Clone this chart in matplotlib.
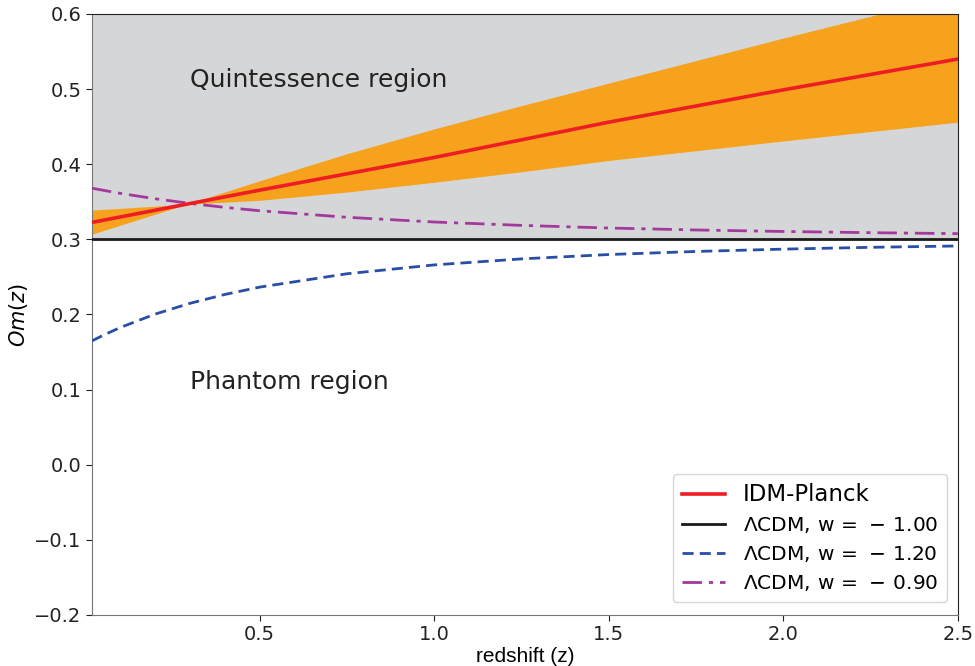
import numpy as np
import matplotlib
matplotlib.use("Agg")
import matplotlib.pyplot as plt

# ---- data ----
z_curve = [0.02, 0.05, 0.1, 0.2, 0.3, 0.4, 0.5, 0.75, 1.0, 1.25, 1.5, 1.75, 2.0, 2.25, 2.5]
om_w120 = [0.1649, 0.1719, 0.1825, 0.2004, 0.2148, 0.2266, 0.2364, 0.2542, 0.2660,
           0.2740, 0.2798, 0.2839, 0.2870, 0.2894, 0.2912]
om_w090 = [0.3681, 0.3655, 0.3613, 0.3541, 0.3479, 0.3426, 0.3381, 0.3294, 0.3231,
           0.3186, 0.3151, 0.3125, 0.3105, 0.3089, 0.3076]
om_w100 = [0.30] * len(z_curve)

z_idm = [0.02, 0.5, 1.0, 1.5, 2.0, 2.5]
om_idm = [0.3226, 0.3655, 0.409, 0.456, 0.499, 0.540]

z_band = [0.02, 0.3, 0.5, 0.75, 1.0, 1.25, 1.5, 2.0, 2.5]
band_a = [0.307, 0.348, 0.378, 0.414, 0.447, 0.478, 0.508, 0.568, 0.626]
band_b = [0.339, 0.347, 0.352, 0.363, 0.376, 0.390, 0.405, 0.431, 0.456]

x_ticks = [0.5, 1.0, 1.5, 2.0, 2.5]
y_ticks = [-0.2, -0.1, 0.0, 0.1, 0.2, 0.3, 0.4, 0.5, 0.6]

labels = ["IDM-Planck",
          r"$\mathrm{\Lambda CDM,\,w\,=\,-\,1.00}$",
          r"$\mathrm{\Lambda CDM,\,w\,=\,-\,1.20}$",
          r"$\mathrm{\Lambda CDM,\,w\,=\,-\,0.90}$"]

fig = plt.figure(figsize=(9.75, 6.66), dpi=100)
ax = fig.add_axes([0.0944, 0.0766, 0.888, 0.9024])

ax.axhspan(0.3, 0.6, color="#d5d6d8", zorder=0, lw=0)
ax.fill_between(z_band, band_a, band_b, color="#f7a21d", lw=0, zorder=1)

ax.plot(z_idm, om_idm, color="#ee1d24", lw=2.6, label=labels[0], zorder=4)
ax.plot(z_curve, om_w100, color="#1a1a1a", lw=2.0, label=labels[1], zorder=3)
ax.plot(z_curve, om_w120, color="#2a4ea6", lw=2.0, ls=(0, (4, 2.2)), label=labels[2], zorder=3)
ax.plot(z_curve, om_w090, color="#a3399b", lw=2.0, ls=(0, (7, 2.5, 1.5, 2.5)), label=labels[3], zorder=3)

ax.text(0.30, 0.512, "Quintessence region", fontsize=18, color="#222222", va="center", ha="left")
ax.text(0.30, 0.110, "Phantom region", fontsize=18, color="#222222", va="center", ha="left")

ax.set_xlim(0.02, 2.5)
ax.set_ylim(-0.2, 0.6)
ax.set_xticks(x_ticks)
ax.set_yticks(y_ticks)
ax.set_xticklabels([f"{v:.1f}" for v in x_ticks])
ax.set_yticklabels([f"{v:.1f}".replace("-", "\u2212") for v in y_ticks])
ax.tick_params(labelsize=14, colors="#222222", length=4)

ax.set_xlabel("redshift (z)", fontsize=15, family="Liberation Sans", labelpad=2)
ax.set_ylabel(r"$Om(z)$", fontsize=15, labelpad=3)

for s in ["left", "bottom"]:
    ax.spines[s].set_color("#777777")
for s in ["top", "right"]:
    ax.spines[s].set_color("#222222")

leg = ax.legend(loc="lower right", fontsize=14.5, frameon=True, handlelength=2.1,
                borderpad=0.45, labelspacing=0.45, handletextpad=0.9,
                bbox_to_anchor=(0.9995, 0.005))
leg.get_texts()[0].set_fontsize(16.5)
leg.get_frame().set_edgecolor("#cccccc")

fig.savefig("out.png", dpi=100)
